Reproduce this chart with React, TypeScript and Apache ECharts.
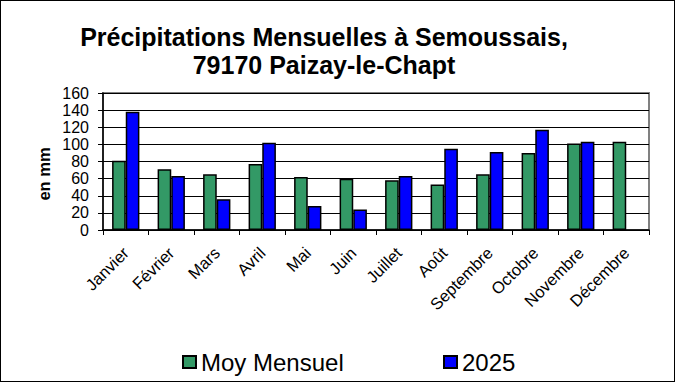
import React, { useEffect, useRef } from "react";
import * as echarts from "echarts";

const categories = ["Janvier", "Février", "Mars", "Avril", "Mai", "Juin", "Juillet", "Août", "Septembre", "Octobre", "Novembre", "Décembre"];
const moyMensuel = [81, 71, 65, 77, 62, 60, 58, 53, 65, 90, 101, 103];
const values2025: (number | null)[] = [138, 63, 36, 102, 28, 24, 63, 95, 91, 117, 103, null];
const yTicks = { min: 0, max: 160, interval: 20 };

const FONT = "'Liberation Sans', Arial, sans-serif";

export default function App() {
  const ref = useRef<HTMLDivElement>(null);
  useEffect(() => {
    if (!ref.current) return;
    const chart = echarts.init(ref.current, undefined, { renderer: "svg" });
    chart.setOption({
      animation: false,
      backgroundColor: "#ffffff",
      title: {
        text: "Précipitations Mensuelles à Semoussais,\n79170 Paizay-le-Chapt",
        left: 318,
        top: 17,
        textAlign: "center",
        textStyle: { fontFamily: FONT, fontWeight: "bold", fontSize: 25, color: "#000", lineHeight: 28.3 },
      },
      legend: [
        {
          data: ["Moy Mensuel"], left: 176, top: 344, icon: "rect", itemWidth: 13, itemHeight: 12, itemGap: 6,
          textStyle: { fontFamily: FONT, fontSize: 24, color: "#000" },
        },
        {
          data: ["2025"], left: 437, top: 344, icon: "rect", itemWidth: 13, itemHeight: 12, itemGap: 6,
          textStyle: { fontFamily: FONT, fontSize: 24, color: "#000" },
        },
      ],
      grid: { left: 102, right: 25, top: 92, bottom: 151, show: true, borderColor: "#808080", borderWidth: 2 },
      xAxis: {
        type: "category",
        data: categories,
        axisLine: { lineStyle: { color: "#000", width: 1.5 } },
        axisTick: { show: true, length: 5, lineStyle: { color: "#000" } },
        axisLabel: { rotate: 45, interval: 0, fontFamily: FONT, fontSize: 16.5, color: "#000", margin: 20 },
      },
      yAxis: {
        type: "value",
        min: yTicks.min, max: yTicks.max, interval: yTicks.interval,
        axisLine: { show: true, lineStyle: { color: "#000", width: 1.5 } },
        axisTick: { show: true, length: 5, lineStyle: { color: "#000" } },
        axisLabel: { fontFamily: FONT, fontSize: 16, color: "#000", margin: 14 },
        splitLine: { lineStyle: { color: "#000", width: 1 } },
      },
      graphic: [
        {
          type: "text",
          x: 43,
          y: 173,
          rotation: Math.PI / 2,
          style: {
            text: "en mm",
            fontFamily: FONT,
            fontWeight: "bold",
            fontSize: 16.5,
            fill: "#000",
            align: "center",
            verticalAlign: "middle",
          },
        },
      ],
      series: [
        {
          name: "Moy Mensuel", type: "bar", data: moyMensuel, barGap: "0%", barCategoryGap: "40%",
          itemStyle: { color: "#339966", borderColor: "#000", borderWidth: 1.5 },
        },
        {
          name: "2025", type: "bar", data: values2025, barGap: "0%", barCategoryGap: "40%",
          itemStyle: { color: "#0000ff", borderColor: "#000", borderWidth: 1.5 },
        },
      ],
    });
    return () => chart.dispose();
  }, []);
  return (
    <div
      ref={ref}
      style={{ position: "fixed", left: 0, top: 0, width: 675, height: 382, boxSizing: "border-box", border: "1px solid #000" }}
    />
  );
}
